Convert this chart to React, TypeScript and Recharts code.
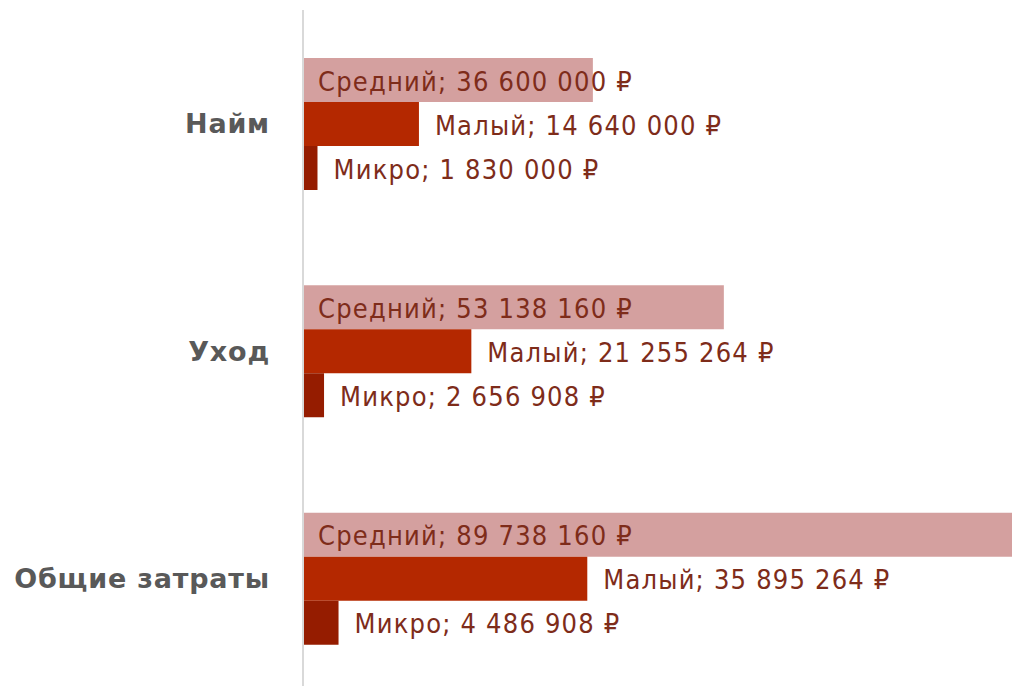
import React from 'react';
import { BarChart, Bar, XAxis, YAxis, LabelList } from 'recharts';

const categories = ['Найм', 'Уход', 'Общие затраты'];
const srednij = [36600000, 53138160, 89738160];
const malyj = [14640000, 21255264, 35895264];
const mikro = [1830000, 2656908, 4486908];

const data = categories.map((name, i) => ({
  name,
  srednij: srednij[i],
  malyj: malyj[i],
  mikro: mikro[i],
}));

const labelFont = '"DejaVu Sans Condensed", "DejaVu Sans", sans-serif';
const fmt = (v: number) => String(v).replace(/\B(?=(\d{3})+(?!\d))/g, ' ');

function makeLabel(series: string, inside: boolean) {
  return (props: any) => {
    const { x, y, width, height, value } = props;
    const tx = inside ? x + 15 : x + width + 16;
    return (
      <text
        x={tx}
        y={y + height / 2 + 1}
        dominantBaseline="central"
        fill="#7e2c1a"
        fontFamily={labelFont}
        fontSize={27}
        letterSpacing={1.2}
      >
        {`${series}; ${fmt(value)} ₽`}
      </text>
    );
  };
}

export default function App() {
  return (
    <div style={{ position: 'fixed', left: 0, top: 0, width: 1012, height: 686, overflow: 'hidden', background: '#fff' }}>
      <BarChart
        width={1095}
        height={700}
        data={data}
        layout="vertical"
        barSize={44}
        barGap={0}
        margin={{ top: 10, right: 0, bottom: 8, left: 0 }}
      >
        <XAxis type="number" domain={[0, 100000000]} hide />
        <YAxis
          type="category"
          dataKey="name"
          width={303}
          axisLine={{ stroke: '#d9d9d9', strokeWidth: 2 }}
          tickLine={false}
          tickSize={0}
          tickMargin={33}
          tick={{ fill: '#595959', fontFamily: '"DejaVu Sans", sans-serif', fontWeight: 700, fontSize: 27, letterSpacing: 0.8 }}
        />
        <Bar dataKey="srednij" fill="#d4a09f" isAnimationActive={false}>
          <LabelList dataKey="srednij" content={makeLabel('Средний', true)} />
        </Bar>
        <Bar dataKey="malyj" fill="#b42800" isAnimationActive={false}>
          <LabelList dataKey="malyj" content={makeLabel('Малый', false)} />
        </Bar>
        <Bar dataKey="mikro" fill="#951c00" isAnimationActive={false}>
          <LabelList dataKey="mikro" content={makeLabel('Микро', false)} />
        </Bar>
      </BarChart>
    </div>
  );
}
